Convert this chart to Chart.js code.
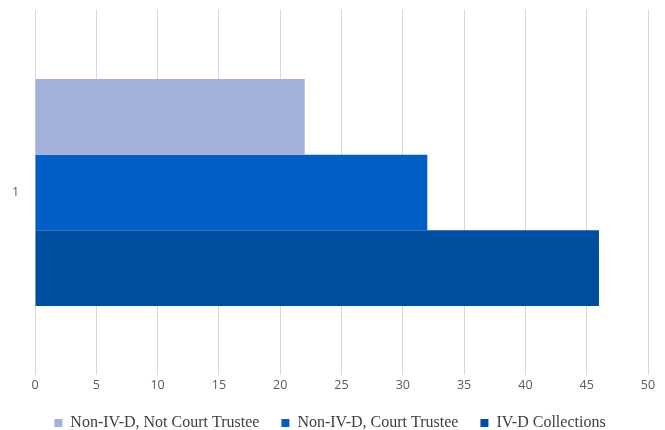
<!DOCTYPE html>
<html lang="en">
<head>
  <meta charset="UTF-8">
  <title>Collections</title>
  <script src="https://cdn.jsdelivr.net/npm/chart.js"></script>
  <style>
    body { margin: 0; background: #fff; }
    #wrap { width: 665px; height: 430px; }
  </style>
</head>
<body>
  <div id="wrap"><canvas id="chart"></canvas></div>
  <script>
    const categories = ['1'];
    const seriesNames = ['Non-IV-D, Not Court Trustee', 'Non-IV-D, Court Trustee', 'IV-D Collections'];
    const notCourtTrustee = [22];
    const courtTrustee = [32];
    const ivdCollections = [46];
    const seriesColors = ['#a2b0da', '#005ec4', '#004ea0'];

    const values = [notCourtTrustee, courtTrustee, ivdCollections];

    new Chart(document.getElementById('chart'), {
      type: 'bar',
      data: {
        labels: categories,
        datasets: seriesNames.map((name, i) => ({
          label: name,
          data: values[i],
          backgroundColor: seriesColors[i],
          borderWidth: 0,
          categoryPercentage: 0.622,
          barPercentage: 1
        }))
      },
      options: {
        indexAxis: 'y',
        responsive: true,
        maintainAspectRatio: false,
        animation: false,
        // negative bottom: the legend keeps 10px of empty space under itself
        layout: { padding: { top: 10, right: 17, left: 12, bottom: -11 } },
        scales: {
          x: {
            min: 0,
            max: 50,
            ticks: { stepSize: 5, color: '#595959', font: { family: 'Open Sans', size: 12.5 }, padding: 3 },
            grid: { color: '#d9d9d9', lineWidth: 1, drawTicks: false },
            border: { display: false },
            afterFit: (s) => { s.height = 18; }
          },
          y: {
            ticks: { color: '#595959', font: { family: 'Open Sans', size: 12.5 }, padding: 0, crossAlign: 'far' },
            grid: { display: false },
            border: { display: false },
            afterFit: (s) => { s.width = 23; }
          }
        },
        plugins: {
          tooltip: { enabled: false },
          legend: {
            position: 'bottom',
            labels: {
              boxWidth: 8,
              boxHeight: 8,
              padding: 22,
              color: '#404040',
              font: { family: 'Liberation Serif', size: 16 }
            }
          }
        }
      }
    });
  </script>
</body>
</html>
